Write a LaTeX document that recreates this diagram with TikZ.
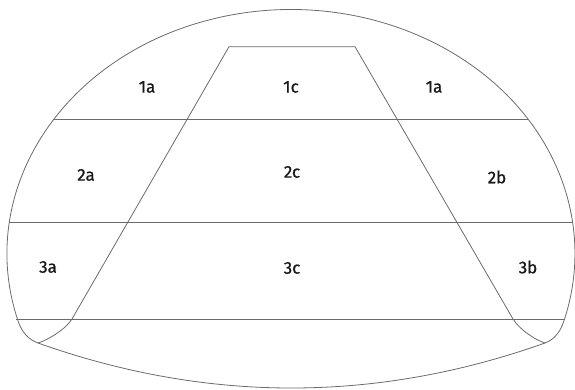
\documentclass[tikz,border=0pt]{standalone}
\usepackage{fontspec}
\setmainfont{Fira Sans}
\newfontfamily\lblfont{Fira Sans}[FakeBold=0.9]
\begin{document}
\begin{tikzpicture}[x=1pt,y=1pt]
\tikzset{
  edge/.style={draw=black!58, line width=0.8pt, line join=round},
  lbl/.style={font=\lblfont\fontsize{17}{20}\selectfont, text=black!90, inner sep=0pt}
}
\useasboundingbox (0,0) rectangle (575,389);
% outline
\coordinate (oL) at (18.4,67);
\coordinate (cR) at (545,46);
\coordinate (cL) at (38,46);
\draw[edge] (oL) arc[start angle=196.3, end angle=-16.3, x radius=284pt, y radius=244pt]
  .. controls (559.6,55.5) and (553,49) .. (cR)
  .. controls (376,-14) and (207,-14) .. (cL)
  .. controls (30,48.8) and (22.4,55.5) .. cycle;
% horizontal bands
\coordinate (h1l) at (53.6,269.5); \coordinate (h1r) at (528.4,269.5);
\coordinate (h2l) at (9.4,167);    \coordinate (h2r) at (572.6,167);
\coordinate (h3l) at (16,70);      \coordinate (h3r) at (565,70);
\draw[edge] (h1l) -- (h1r);
\draw[edge] (h2l) -- (h2r);
\draw[edge] (h3l) -- (h3r);
% trapezoid
\coordinate (tl) at (229,342.3);
\coordinate (tr) at (355,342.3);
\coordinate (bl) at (72,70);
\coordinate (br) at (513,70);
\draw[edge] (cL) .. controls (48,49) and (66,60) .. (bl) -- (tl) -- (tr) -- (br)
  .. controls (519,60) and (535,49) .. (cR);
% labels
\node[lbl] (l1a) at (147,302) {1a};
\node[lbl] (l1c) at (291,302) {1c};
\node[lbl] (r1a) at (434,302) {1a};
\node[lbl] (l2a) at (86,214) {2a};
\node[lbl] (l2c) at (292,217) {2c};
\node[lbl] (r2b) at (497,212) {2b};
\node[lbl] (l3a) at (48,122) {3a};
\node[lbl] (l3c) at (292,121) {3c};
\node[lbl] (r3b) at (528,122) {3b};
\end{tikzpicture}
\end{document}
